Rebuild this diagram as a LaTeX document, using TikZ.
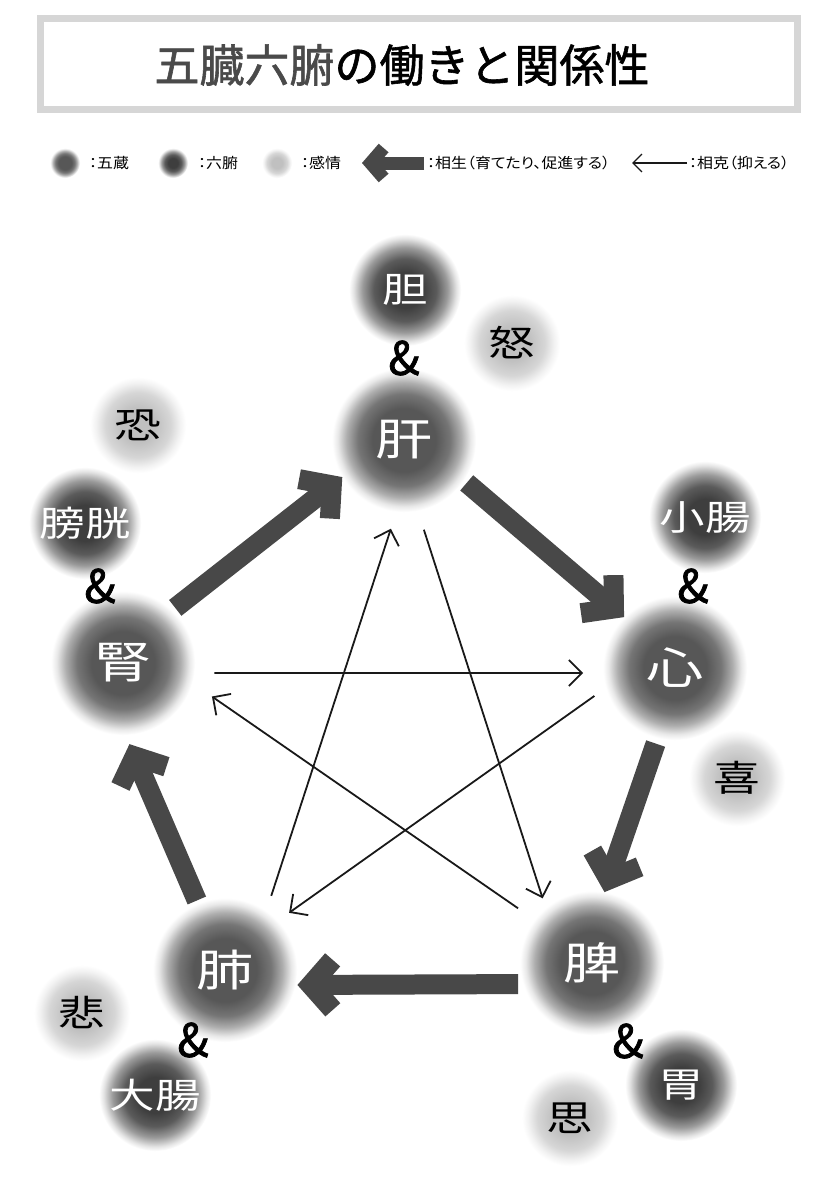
\documentclass[tikz,border=0pt]{standalone}
\usepackage{fontspec}
\usepackage{tikz}
\usetikzlibrary{arrows.meta,positioning}
\newfontfamily\jpfont{Noto Sans CJK JP}
\newfontfamily\titlefont[FakeBold=1.3]{Noto Sans CJK JP}
\newfontfamily\ampfont[FakeBold=1.6]{Noto Sans CJK JP}
\newfontfamily\jpwide[FakeStretch=1.3]{Noto Sans CJK JP}
\newfontfamily\keyfont[FakeStretch=1.1,RawFeature=+palt]{Noto Sans CJK JP}

\definecolor{zanggray}{HTML}{575757}
\definecolor{fugray}{HTML}{3E3E3E}
\definecolor{emogray}{HTML}{C0C0C0}
\definecolor{shenggray}{HTML}{484848}
\definecolor{framegray}{HTML}{D6D6D6}
\definecolor{titlegray}{HTML}{4A4A4A}

\pgfdeclareradialshading{zangshade}{\pgfpoint{0bp}{0bp}}{color(0bp)=(zanggray); color(11bp)=(zanggray); color(16bp)=(zanggray!82!white); color(20bp)=(zanggray!48!white); color(23bp)=(zanggray!14!white); color(25bp)=(white); color(50bp)=(white)}
\pgfdeclareradialshading{fushade}{\pgfpoint{0bp}{0bp}}{color(0bp)=(fugray); color(8bp)=(fugray); color(14bp)=(fugray!85!white); color(19bp)=(fugray!52!white); color(23bp)=(fugray!14!white); color(25bp)=(white); color(50bp)=(white)}
\pgfdeclareradialshading{emoshade}{\pgfpoint{0bp}{0bp}}{color(0bp)=(emogray); color(9bp)=(emogray); color(17bp)=(emogray!65!white); color(22bp)=(emogray!20!white); color(25bp)=(white); color(50bp)=(white)}

\tikzset{
  zang/.style={circle, minimum size=144pt, inner sep=0pt, outer sep=0pt, shading=zangshade, text=white, font=\jpwide\fontsize{44}{44}\selectfont},
  fu/.style={circle, minimum size=112pt, inner sep=0pt, outer sep=0pt, shading=fushade, text=white, font=\jpwide\fontsize{35}{35}\selectfont},
  emotion/.style={circle, minimum size=96pt, inner sep=0pt, outer sep=0pt, shading=emoshade, text=black, font=\jpwide\fontsize{36}{36}\selectfont},
  amp/.style={inner sep=0pt, font=\ampfont\fontsize{46}{46}\selectfont},
  keydot/.style={minimum size=30pt},
  keytext/.style={anchor=west, inner sep=0pt, font=\keyfont\fontsize{14.5}{14.5}\selectfont},
  sheng/.style={draw=shenggray, line width=20pt, -{Straight Barb[length=22pt,width=50pt]}},
  shengsmall/.style={draw=shenggray, line width=13pt, -{Straight Barb[length=13pt,width=30pt]}},
  ke/.style={draw=black!90, line width=1.8pt, -{Straight Barb[length=13pt,width=26pt]}},
  kesmall/.style={draw=black!90, line width=1.3pt, -{Straight Barb[length=9pt,width=18pt]}}
}

\begin{document}
\begin{tikzpicture}[x=1pt,y=-1pt]
  \useasboundingbox[fill=white] (0,0) rectangle (833,1186);

  \draw[framegray, line width=7pt] (40,18) rectangle (797,109);
  \node[font=\titlefont\fontsize{45}{45}\selectfont] (title) at (402,65) {\textcolor{titlegray}{五臓六腑}の働きと関係性};

  \node[zang, keydot] (keyzang) at (65,163) {};
  \node[keytext] (keyzangtext) at (89,163) {：五蔵};
  \node[fu, keydot] (keyfu) at (173,163) {};
  \node[keytext] (keyfutext) at (198,163) {：六腑};
  \node[emotion, keydot] (keyemo) at (277,163) {};
  \node[keytext] (keyemotext) at (301,163) {：感情};
  \coordinate (keyshengtip) at (362,163);
  \node[keytext] (keysheng) at (427,163) {：相生（育てたり、促進する）};
  \draw[shengsmall, shorten <=3pt] (keysheng.west) -- (keyshengtip);
  \coordinate (keyketip) at (632,163);
  \node[keytext] (keyke) at (689,163) {：相克（抑える）};
  \draw[kesmall, shorten <=2pt] (keyke.west) -- (keyketip);

  \node[fu] (gall) at (405,290) {胆};
  \node[zang] (liver) at (404,440) {肝};
  \node[emotion] (anger) at (512,343) {怒};

  \node[fu] (smallint) at (705,517) {小腸};
  \node[zang] (heart) at (675,668) {心};
  \node[emotion] (joy) at (737,778) {喜};

  \node[zang] (spleen) at (592,963) {脾};
  \node[fu] (stomach) at (681,1085) {胃};
  \node[emotion] (worry) at (570,1118) {思};

  \node[zang] (lung) at (225,970) {肺};
  \node[fu] (largeint) at (155,1095) {大腸};
  \node[emotion] (grief) at (82,1013) {悲};

  \node[zang] (kidney) at (123,663) {腎};
  \node[fu] (bladder) at (85,523) {膀胱};
  \node[emotion] (fear) at (138,425) {恐};

  \node[amp] (gallamp) at (404,358) {\&};
  \node[amp] (smallintamp) at (693,586) {\&};
  \node[amp] (spleenamp) at (628,1041) {\&};
  \node[amp] (lungamp) at (193,1040) {\&};
  \node[amp] (kidneyamp) at (100,586) {\&};

  \draw[sheng, shorten <=4pt] (kidney.47) -- (liver.211);
  \draw[sheng, shorten <=4pt] (liver.-34) -- (heart.135);
  \draw[sheng, shorten <=6pt] (heart.256) -- (spleen.80);
  \draw[sheng, shorten <=5pt, shorten >=2pt] (spleen.197) -- (lung.-12);
  \draw[sheng, shorten <=3pt, shorten >=10pt] (lung.112) -- (kidney.-88);

  \draw[ke, shorten <=20pt, shorten >=10pt] (liver.-79) -- (spleen.130);
  \draw[ke, shorten <=20pt, shorten >=24pt] (spleen.143) -- (kidney.-16);
  \draw[ke, shorten <=20pt, shorten >=20pt] (kidney.-8) -- (heart.184);
  \draw[ke, shorten <=14pt, shorten >=14pt] (heart.196) -- (lung.43);
  \draw[ke, shorten <=16pt, shorten >=18pt] (lung.55) -- (liver.264);
\end{tikzpicture}
\end{document}
